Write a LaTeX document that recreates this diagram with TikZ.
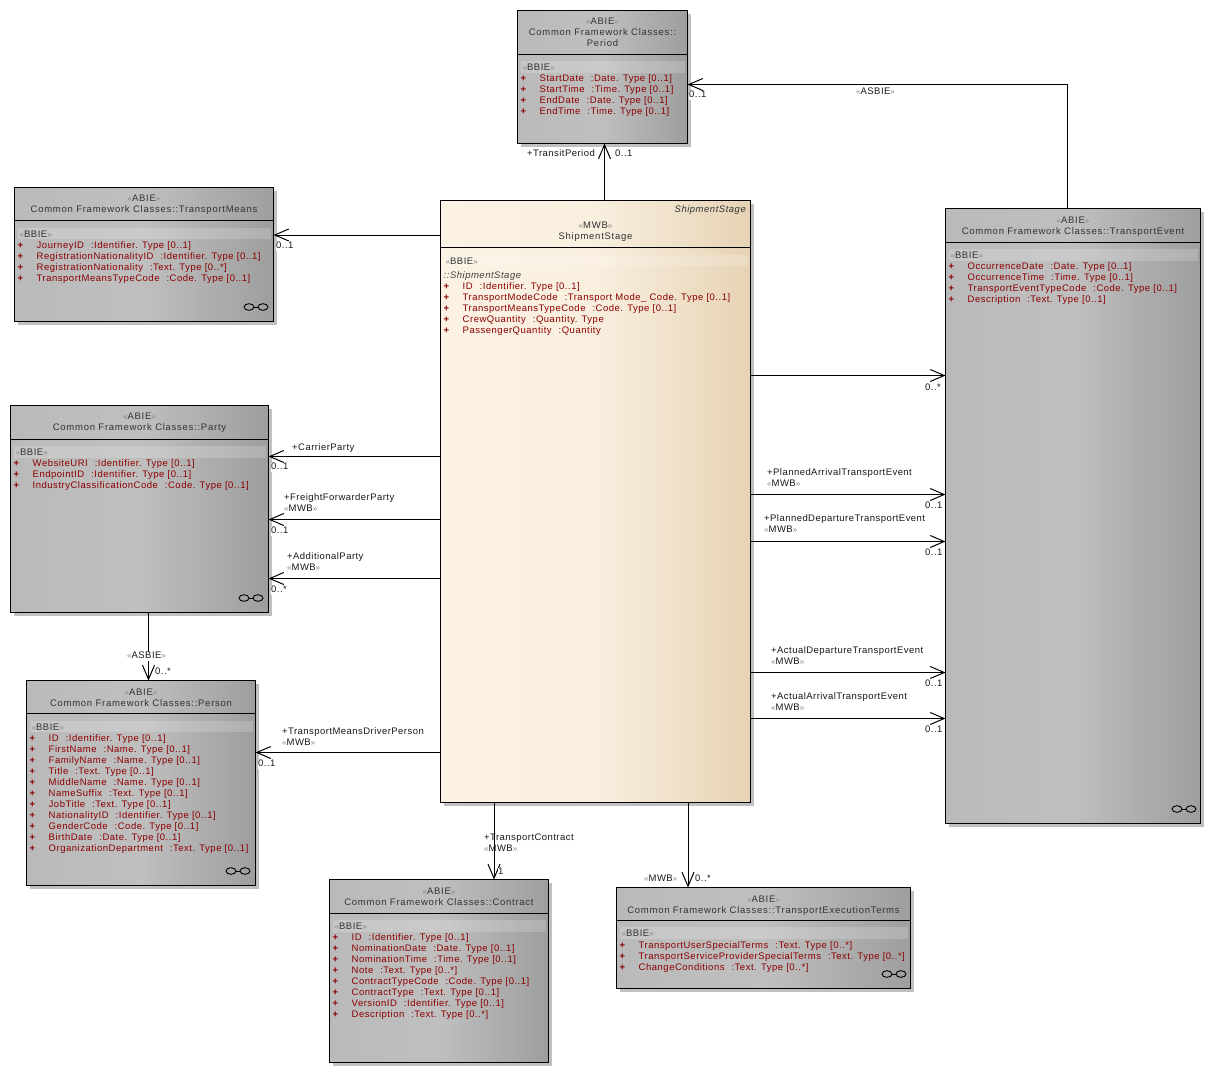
\documentclass[tikz,border=0pt]{standalone}
\usepackage{fontspec}
\setmainfont{Liberation Sans}
\usetikzlibrary{arrows.meta,calc}
\definecolor{attrred}{HTML}{8B0000}
\definecolor{guil}{HTML}{858585}
\definecolor{shadowgray}{HTML}{C0C0C0}
\definecolor{grayL}{HTML}{BABABA}
\definecolor{grayM}{HTML}{BFBFBF}
\definecolor{grayR}{HTML}{9E9E9E}
\definecolor{stageL}{HTML}{FBF2E4}
\definecolor{stageM}{HTML}{F9EFDF}
\definecolor{stageR}{HTML}{E6D3B5}
\newcommand{\titlefont}{\fontsize{9.5}{11}\selectfont\addfontfeatures{LetterSpace=7.8}}
\newcommand{\attrfont}{\fontsize{9.5}{11}\selectfont\addfontfeatures{LetterSpace=5.4}}
\newcommand{\lblfont}{\fontsize{9.5}{11}\selectfont\addfontfeatures{LetterSpace=4.8}}
\newcommand{\st}[1]{{\color{guil}\fontsize{8}{8}\selectfont«}#1{\color{guil}\fontsize{8}{8}\selectfont»}}
\newcommand{\at}[2]{\makebox[19pt][l]{\textbf{+}}\strut #1\hspace{7pt}:#2}
\tikzset{
  x=1pt,y=-1pt,
  umlbase/.style={draw=black,line width=1pt,inner sep=0pt,outer sep=0pt},
  graybox/.style={umlbase,left color=grayL,right color=grayR,middle color=grayM},
  stagebox/.style={umlbase,left color=stageL,right color=stageR,middle color=stageM},
  conn/.style={draw=black,line width=1pt,-{Straight Barb[length=14pt,width=12pt,line width=1pt]}},
  lbl/.style={anchor=west,inner sep=0pt,font=\lblfont,text=black!90,text height=7pt,text depth=0pt},
  mult/.style={lbl,fill=white,text depth=2pt,yshift=-1pt},
  titletxt/.style={align=center,inner sep=0pt,font=\titlefont,text=black!80},
  attrtxt/.style={anchor=north west,align=left,inner sep=0pt,font=\attrfont,text=attrred},
  bbiebar/.style={fill=white,fill opacity=0.18},
  bbie/.style={anchor=west,inner sep=0pt,font=\attrfont,text=black!80,text height=7pt,text depth=0pt},
  chainring/.style={draw=black,line width=0.9pt}
}
% id, x1,y1,x2,y2, sep, shading style, title y, title
\newcommand{\umlbox}[9]{%
  \pgfmathsetmacro{\cx}{(#2+#4)/2}\pgfmathsetmacro{\cy}{(#3+#5)/2}%
  \pgfmathsetmacro{\bw}{#4-#2}\pgfmathsetmacro{\bh}{#5-#3}%
  \pgfmathsetmacro{\tx}{(#2+#4)/2}%
  \fill[shadowgray] (#2+3,#3+3) rectangle (#4+3,#5+3);
  \node[#7,minimum width=\bw pt,minimum height=\bh pt] (#1) at (\cx,\cy) {};
  \draw[line width=1pt] (#1.west |- 0,#6) -- (#1.east |- 0,#6);
  \fill[bbiebar] (#2+3,#6+7) rectangle (#4-3,#6+18.5);
  \node[bbie] (#1-bbie) at (#2+5,#6+13) {\st{BBIE}};
  \node[titletxt] (#1-title) at (\tx,#8) {#9};
}
\newcommand{\chain}[2]{%
  \draw[chainring] (#1+5,#2) ellipse (5 and 3.3);
  \draw[chainring] (#1+19,#2) ellipse (5 and 3.3);
  \draw[chainring] (#1+10,#2) -- (#1+14,#2);
}
\begin{document}
\begin{tikzpicture}
\useasboundingbox (0,0) rectangle (1211,1090);
\fill[white] (0,0) rectangle (1211,1090);

% boxes
\umlbox{period}{517.5}{10.5}{687.5}{143.5}{54}{graybox}{32.5}{\st{ABIE}\\Common Framework Classes::\\Period}
\node[attrtxt] (period-attrs) at (520.5,74) {\at{StartDate}{Date. Type [0..1]}\\\at{StartTime}{Time. Type [0..1]}\\\at{EndDate}{Date. Type [0..1]}\\\at{EndTime}{Time. Type [0..1]}};

\umlbox{means}{14.5}{187.5}{273.5}{321.5}{220.5}{graybox}{205}{\st{ABIE}\\Common Framework Classes::TransportMeans}
\node[attrtxt] (means-attrs) at (17.5,240.5) {\at{JourneyID}{Identifier. Type [0..1]}\\\at{RegistrationNationalityID}{Identifier. Type [0..1]}\\\at{RegistrationNationality}{Text. Type [0..*]}\\\at{TransportMeansTypeCode}{Code. Type [0..1]}};
\chain{244}{307}

\umlbox{party}{10.5}{405.5}{268.5}{612.5}{439}{graybox}{423}{\st{ABIE}\\Common Framework Classes::Party}
\node[attrtxt] (party-attrs) at (13.5,459) {\at{WebsiteURI}{Identifier. Type [0..1]}\\\at{EndpointID}{Identifier. Type [0..1]}\\\at{IndustryClassificationCode}{Code. Type [0..1]}};
\chain{239}{598}

\umlbox{person}{26.5}{680.5}{255.5}{885.5}{713.5}{graybox}{697.5}{\st{ABIE}\\Common Framework Classes::Person}
\node[attrtxt] (person-attrs) at (29.5,733.5) {\at{ID}{Identifier. Type [0..1]}\\\at{FirstName}{Name. Type [0..1]}\\\at{FamilyName}{Name. Type [0..1]}\\\at{Title}{Text. Type [0..1]}\\\at{MiddleName}{Name. Type [0..1]}\\\at{NameSuffix}{Text. Type [0..1]}\\\at{JobTitle}{Text. Type [0..1]}\\\at{NationalityID}{Identifier. Type [0..1]}\\\at{GenderCode}{Code. Type [0..1]}\\\at{BirthDate}{Date. Type [0..1]}\\\at{OrganizationDepartment}{Text. Type [0..1]}};
\chain{226}{871}

\umlbox{contract}{329.5}{879.5}{548.5}{1062.5}{913}{graybox}{896.5}{\st{ABIE}\\Common Framework Classes::Contract}
\node[attrtxt] (contract-attrs) at (332.5,933) {\at{ID}{Identifier. Type [0..1]}\\\at{NominationDate}{Date. Type [0..1]}\\\at{NominationTime}{Time. Type [0..1]}\\\at{Note}{Text. Type [0..*]}\\\at{ContractTypeCode}{Code. Type [0..1]}\\\at{ContractType}{Text. Type [0..1]}\\\at{VersionID}{Identifier. Type [0..1]}\\\at{Description}{Text. Type [0..*]}};

\umlbox{terms}{616.5}{887.5}{910.5}{988.5}{920}{graybox}{906}{\st{ABIE}\\Common Framework Classes::TransportExecutionTerms}
\node[attrtxt] (terms-attrs) at (619.5,941) {\at{TransportUserSpecialTerms}{Text. Type [0..*]}\\\at{TransportServiceProviderSpecialTerms}{Text. Type [0..*]}\\\at{ChangeConditions}{Text. Type [0..*]}};
\chain{882}{974}

\umlbox{event}{945.5}{208.5}{1200.5}{823.5}{242}{graybox}{227}{\st{ABIE}\\Common Framework Classes::TransportEvent}
\node[attrtxt] (event-attrs) at (948.5,262) {\at{OccurrenceDate}{Date. Type [0..1]}\\\at{OccurrenceTime}{Time. Type [0..1]}\\\at{TransportEventTypeCode}{Code. Type [0..1]}\\\at{Description}{Text. Type [0..1]}};
\chain{1172}{809}

\umlbox{stage}{440.5}{200.5}{750.5}{802.5}{247.5}{stagebox}{232}{\st{MWB}\\ShipmentStage}
\node[bbie,anchor=east,font=\attrfont\itshape] (stage-tag) at (746,209) {ShipmentStage};
\node[attrtxt] (stage-attrs) at (443.5,270.5) {{\color{black!75}\itshape\strut ::ShipmentStage}\\\at{ID}{Identifier. Type [0..1]}\\\at{TransportModeCode}{Transport Mode\_ Code. Type [0..1]}\\\at{TransportMeansTypeCode}{Code. Type [0..1]}\\\at{CrewQuantity}{Quantity. Type}\\\at{PassengerQuantity}{Quantity}};

% connectors
\draw[conn] (stage.north -| 604.5,0) -- (period.south -| 604.5,0);
\draw[conn] (event.north -| 1067,0) |- (period.east |- 0,84.5);
\draw[conn] (stage.west |- 0,235) -- (means.east |- 0,235);
\draw[conn] (stage.west |- 0,456.5) -- (party.east |- 0,456.5);
\draw[conn] (stage.west |- 0,519.5) -- (party.east |- 0,519.5);
\draw[conn] (stage.west |- 0,578.5) -- (party.east |- 0,578.5);
\draw[conn] (party.south -| 148.5,0) -- (person.north -| 148.5,0);
\draw[conn] (stage.west |- 0,752.5) -- (person.east |- 0,752.5);
\draw[conn] (stage.south -| 494,0) -- (contract.north -| 494,0);
\draw[conn] (stage.south -| 688,0) -- (terms.north -| 688,0);
\draw[conn] (stage.east |- 0,375.5) -- (event.west |- 0,375.5);
\draw[conn] (stage.east |- 0,494.5) -- (event.west |- 0,494.5);
\draw[conn] (stage.east |- 0,541.5) -- (event.west |- 0,541.5);
\draw[conn] (stage.east |- 0,672.5) -- (event.west |- 0,672.5);
\draw[conn] (stage.east |- 0,718.5) -- (event.west |- 0,718.5);

% connector labels
\node[lbl] (l1) at (527,153) {+TransitPeriod};
\node[lbl] (l2) at (615,153) {0..1};
\node[lbl] (l3) at (856,91) {\st{ASBIE}};
\node[mult] (l4) at (689,94) {0..1};
\node[mult] (l5) at (276,245) {0..1};
\node[lbl] (l6) at (292,447) {+CarrierParty};
\node[mult] (l7) at (271,466) {0..1};
\node[lbl] (l8) at (284,497) {+FreightForwarderParty};
\node[lbl] (l9) at (284,508) {\st{MWB}};
\node[mult] (l10) at (271,530) {0..1};
\node[lbl] (l11) at (287,556) {+AdditionalParty};
\node[lbl] (l12) at (287,567) {\st{MWB}};
\node[mult] (l13) at (271,589) {0..*};
\node[mult] (l14) at (127,655) {\st{ASBIE}};
\node[lbl] (l15) at (155,671) {0..*};
\node[lbl] (l16) at (282,731) {+TransportMeansDriverPerson};
\node[lbl] (l17) at (282,742) {\st{MWB}};
\node[mult] (l18) at (258,763) {0..1};
\node[lbl] (l19) at (484,837) {+TransportContract};
\node[lbl] (l20) at (484,848) {\st{MWB}};
\node[mult] (l21) at (498,871) {1};
\node[lbl] (l22) at (644,878) {\st{MWB}};
\node[lbl] (l23) at (695,878) {0..*};
\node[mult] (l24) at (925,387) {0..*};
\node[lbl] (l25) at (767,472) {+PlannedArrivalTransportEvent};
\node[lbl] (l26) at (767,483) {\st{MWB}};
\node[mult] (l27) at (925,505) {0..1};
\node[lbl] (l28) at (764,518) {+PlannedDepartureTransportEvent};
\node[lbl] (l29) at (764,529) {\st{MWB}};
\node[mult] (l30) at (925,552) {0..1};
\node[lbl] (l31) at (771,650) {+ActualDepartureTransportEvent};
\node[lbl] (l32) at (771,661) {\st{MWB}};
\node[mult] (l33) at (925,683) {0..1};
\node[lbl] (l34) at (771,696) {+ActualArrivalTransportEvent};
\node[lbl] (l35) at (771,707) {\st{MWB}};
\node[mult] (l36) at (925,729) {0..1};
\end{tikzpicture}
\end{document}
